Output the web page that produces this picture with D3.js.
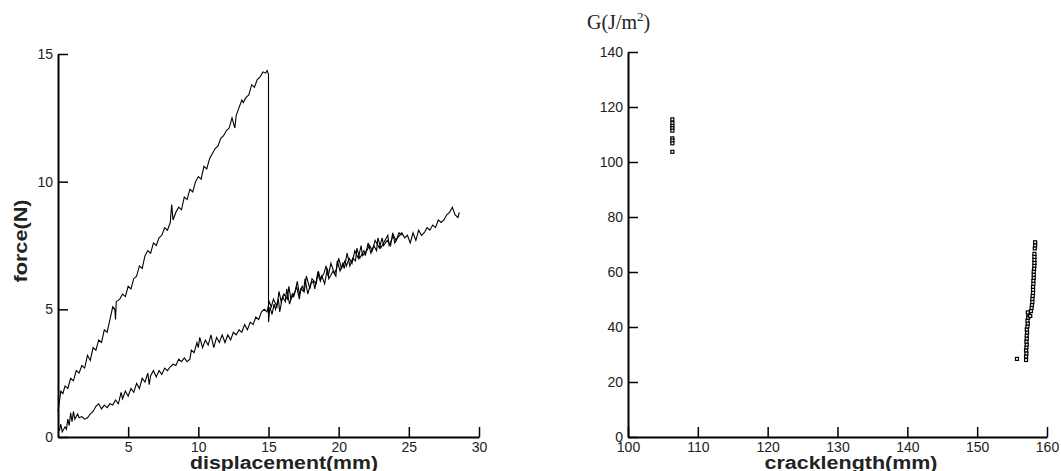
<!DOCTYPE html>
<meta charset='utf-8'>
<title>force-displacement and G-cracklength</title>
<style>
html, body {
  margin: 0;
  padding: 0;
  background: #fff;
}
svg text { font-family: 'Liberation Sans', Arial, sans-serif; fill: #222; }
</style>
<script src='https://d3js.org/d3.v7.min.js'></script>
<body>
<svg id='chart' width='1061' height='471'></svg>
<script>
// Loading curve up to the crack jump at 15 mm, [displacement, force]
var loadCurve = [
  [0, 1.0], [0.1, 1.4], [0.2, 1.8], [0.35, 1.7], [0.5, 2.0], [0.7, 1.9], [0.9, 2.3], [1.1, 2.2],
  [1.3, 2.6], [1.5, 2.5], [1.7, 2.8], [1.9, 2.7], [2.1, 3.2], [2.3, 3.0], [2.5, 3.5], [2.7, 3.4],
  [2.9, 3.8], [3.1, 3.7], [3.3, 4.2], [3.5, 4.1], [3.7, 4.6], [3.9, 5.1], [4.05, 5.0], [4.1, 4.6],
  [4.15, 5.3], [4.4, 5.4], [4.6, 5.6], [4.8, 5.5], [5.0, 5.9], [5.2, 5.8], [5.4, 6.2], [5.6, 6.3],
  [5.8, 6.7], [6.0, 6.6], [6.2, 7.1], [6.4, 7.3], [6.6, 7.2], [6.8, 7.6], [7.0, 7.5], [7.2, 7.8],
  [7.4, 7.9], [7.6, 8.2], [7.8, 8.1], [8.0, 8.4], [8.1, 9.1], [8.2, 8.5], [8.4, 8.8], [8.6, 9.0],
  [8.8, 8.9], [9.0, 9.4], [9.2, 9.3], [9.4, 9.7], [9.6, 9.6], [9.8, 10.0], [10.0, 10.2], [10.2, 10.1],
  [10.4, 10.6], [10.6, 10.5], [10.8, 10.9], [11.0, 11.1], [11.2, 11.3], [11.4, 11.4], [11.6, 11.7],
  [11.8, 11.8], [12.0, 12.0], [12.2, 12.1], [12.4, 12.5], [12.6, 12.1], [12.7, 12.6], [12.9, 12.9],
  [13.1, 13.2], [13.2, 13.1], [13.4, 13.3], [13.6, 13.4], [13.8, 13.8], [14.0, 13.7], [14.2, 14.0],
  [14.4, 14.1], [14.6, 14.3], [14.8, 14.25], [14.9, 14.35], [15.0, 14.2], [15.0, 4.5]
];

// After the drop
var dropCurve = [
  [15.0, 4.5], [15.1, 5.1], [15.25, 4.8], [15.4, 5.2], [15.5, 5.0], [15.7, 5.4], [15.8, 4.9],
  [16.0, 5.5], [16.2, 5.3], [16.3, 5.8], [16.5, 5.2], [16.7, 5.6], [16.8, 5.5], [17.0, 5.9],
  [17.2, 5.4], [17.3, 5.8], [17.5, 5.7], [17.6, 6.2], [17.8, 5.6], [18.0, 6.0], [18.2, 6.1],
  [18.3, 5.8], [18.5, 6.4], [18.7, 6.1], [18.8, 6.3], [19.0, 6.0], [19.2, 6.6], [19.3, 6.2],
  [19.6, 6.5], [19.8, 6.3], [19.9, 6.9], [20.1, 6.5], [20.3, 6.8], [20.4, 6.6], [20.6, 7.2],
  [20.8, 6.7], [21.0, 7.0], [21.2, 6.9], [21.3, 7.4], [21.5, 7.0], [21.8, 7.3], [21.9, 7.1],
  [22.1, 7.6], [22.3, 7.2], [22.5, 7.5], [22.7, 7.3], [22.8, 7.8], [23.0, 7.4], [23.3, 7.7],
  [23.5, 7.9], [23.6, 7.5], [23.9, 7.9], [24.1, 7.7], [24.3, 8.0], [24.5, 7.9]
];

// Reloading curve
var reloadCurve = [
  [0.1, 0.25], [0.2, 0.5], [0.3, 0.2], [0.5, 0.4], [0.6, 0.3], [0.7, 0.7], [0.8, 0.45], [0.9, 0.95],
  [1.0, 0.6], [1.1, 1.0], [1.2, 0.7], [1.4, 0.9], [1.5, 0.75], [1.7, 0.8], [1.9, 0.7], [2.1, 0.75],
  [2.3, 0.9], [2.5, 1.0], [2.7, 1.2], [2.9, 1.3], [3.1, 1.1], [3.3, 1.25], [3.5, 1.15], [3.7, 1.3],
  [3.9, 1.25], [4.1, 1.45], [4.3, 1.3], [4.5, 1.75], [4.6, 1.5], [4.8, 1.8], [5.0, 1.6], [5.2, 1.9],
  [5.4, 1.75], [5.6, 2.1], [5.8, 1.9], [6.0, 2.3], [6.2, 2.15], [6.4, 2.5], [6.5, 2.05], [6.6, 2.4],
  [6.8, 2.6], [7.0, 2.35], [7.2, 2.6], [7.4, 2.45], [7.6, 2.7], [7.8, 2.6], [8.0, 2.75], [8.2, 2.85],
  [8.4, 2.8], [8.6, 3.05], [8.8, 2.95], [9.0, 3.1], [9.2, 2.95], [9.4, 3.05], [9.5, 3.4], [9.7, 3.3],
  [9.9, 3.7], [10.0, 3.5], [10.1, 3.9], [10.3, 3.5], [10.5, 3.8], [10.7, 3.6], [10.9, 4.0], [11.1, 3.5],
  [11.3, 3.9], [11.5, 3.7], [11.7, 4.0], [11.9, 3.7], [12.1, 4.0], [12.3, 3.8], [12.5, 4.1], [12.7, 4.0],
  [12.9, 4.2], [13.1, 4.1], [13.3, 4.4], [13.5, 4.2], [13.7, 4.5], [13.9, 4.4], [14.1, 4.7], [14.3, 4.6],
  [14.5, 4.9], [14.7, 5.0], [14.9, 4.9], [15.05, 5.3], [15.2, 5.1], [15.35, 5.4], [15.6, 5.1], [15.75, 5.7],
  [15.9, 5.3], [16.1, 5.6], [16.35, 5.4], [16.45, 5.9], [16.6, 5.4], [16.9, 5.7], [17.05, 6.1], [17.2, 5.6],
  [17.4, 5.9], [17.55, 5.7], [17.7, 6.3], [17.95, 5.8], [18.1, 6.2], [18.4, 6.0], [18.55, 6.5], [18.7, 6.2],
  [18.95, 6.4], [19.1, 6.7], [19.25, 6.3], [19.45, 6.8], [19.7, 6.4], [19.85, 6.6], [20.0, 7.0], [20.2, 6.6],
  [20.45, 6.9], [20.55, 6.7], [20.75, 7.0], [20.95, 6.8], [21.15, 7.3], [21.4, 7.0], [21.6, 7.5], [21.7, 7.1],
  [22.0, 7.3], [22.2, 7.5], [22.4, 7.3], [22.6, 7.7], [22.9, 7.4], [23.1, 7.8], [23.2, 7.5], [23.45, 7.7],
  [23.7, 7.5], [23.85, 8.0], [24.0, 7.6], [24.2, 7.8], [24.5, 8.0], [24.7, 7.8], [24.9, 7.9],
  [25.1, 7.6], [25.3, 8.0], [25.5, 7.7], [25.7, 8.1], [25.9, 7.9], [26.1, 8.0], [26.3, 8.2],
  [26.5, 8.1], [26.7, 8.3], [26.9, 8.2], [27.1, 8.5], [27.3, 8.4], [27.5, 8.5], [27.7, 8.7],
  [27.9, 8.8], [28.1, 9.0], [28.3, 8.7], [28.5, 8.6], [28.6, 8.8]
];

// G vs crack length, [cracklength, G]
var gEarly = [
  [106.35, 115.5], [106.35, 114.1], [106.35, 113.1], [106.35, 112.3], [106.35, 111.4],
  [106.35, 108.6], [106.35, 107.8], [106.35, 106.8], [106.35, 103.7]
];
var gLate = [
  [155.7, 28.4],
  [157.0, 28.0], [157.0, 29.3], [157.05, 30.4], [157.0, 31.5], [157.05, 32.6], [157.1, 33.6],
  [157.05, 34.7], [157.1, 35.8], [157.1, 36.9], [157.15, 38.0], [157.1, 39.1], [157.2, 40.2],
  [157.25, 41.3], [157.2, 42.3], [157.3, 43.4], [157.35, 44.5], [157.25, 45.3], [157.6, 44.0],
  [157.7, 45.8], [157.8, 46.9], [157.85, 48.0], [157.9, 49.1], [157.9, 50.2], [157.95, 51.3],
  [158.0, 52.4], [158.0, 53.5], [158.0, 54.6], [158.05, 55.7], [158.05, 56.8], [158.1, 57.9],
  [158.1, 59.0], [158.1, 60.1], [158.15, 61.2], [158.2, 62.3], [158.2, 63.3], [158.2, 64.4],
  [158.2, 65.5], [158.2, 66.6], [158.25, 68.6], [158.3, 69.7], [158.3, 70.8]
];

// tick values
var dispTicks = [5, 10, 15, 20, 25, 30];
var dispMinor = d3.range(1, 30, 1);
var forceTicks = [0, 5, 10, 15];
var forceMinor = d3.range(1, 15, 1);
var crackTicks = [100, 110, 120, 130, 140, 150, 160];
var crackMinor = d3.range(102, 160, 2);
var gTicks = [0, 20, 40, 60, 80, 100, 120, 140];
var gMinor = d3.range(5, 140, 5);

var svg = d3.select('#chart');

function drawAxes(g, x, y, xt, xm, yt, ym) {
  var h = y.range()[0];
  var xAx = g.append('g').attr('transform', 'translate(0,' + h + ')');
  xAx.call(d3.axisBottom(x).tickValues(xm).tickSize(-5).tickFormat(''));
  xAx.call(d3.axisBottom(x).tickValues(xt).tickSize(-10).tickSizeOuter(0).tickPadding(5));
  var yAx = g.append('g').attr('transform', 'translate(' + x.range()[0] + ',0)');
  yAx.call(d3.axisLeft(y).tickValues(ym).tickSize(-5).tickFormat(''));
  yAx.call(d3.axisLeft(y).tickValues(yt).tickSize(-10).tickSizeOuter(0).tickPadding(5));
  g.selectAll('.domain').attr('stroke', '#000').attr('stroke-width', 2);
  g.selectAll('.tick line').attr('stroke', '#000').attr('stroke-width', 1.5);
  g.selectAll('.tick text').attr('font-size', 14).attr('fill', '#222')
    .attr('font-family', "'Liberation Sans', Arial, sans-serif");
}

// Left panel
var xL = d3.scaleLinear().domain([0, 30]).range([58, 479]);
var yL = d3.scaleLinear().domain([0, 15]).range([437, 54]);
var left = svg.append('g');

var line = d3.line().x(function (d) { return xL(d[0]); }).y(function (d) { return yL(d[1]); });
[loadCurve, dropCurve, reloadCurve].forEach(function (c) {
  left.append('path').datum(c)
    .attr('d', line)
    .attr('fill', 'none')
    .attr('stroke', '#000')
    .attr('stroke-width', 1.1);
});
drawAxes(left, xL, yL, dispTicks, dispMinor, forceTicks, forceMinor);

left.append('text')
  .attr('x', 284).attr('y', 469)
  .attr('text-anchor', 'middle')
  .attr('font-weight', 'bold').attr('font-size', 18)
  .attr('textLength', 188).attr('lengthAdjust', 'spacingAndGlyphs')
  .text('displacement(mm)');
left.append('text')
  .attr('transform', 'translate(27,241)rotate(-90)')
  .attr('text-anchor', 'middle')
  .attr('font-weight', 'bold').attr('font-size', 18)
  .attr('textLength', 83).attr('lengthAdjust', 'spacingAndGlyphs')
  .text('force(N)');

// Right panel
var xR = d3.scaleLinear().domain([100, 160]).range([628, 1047]);
var yR = d3.scaleLinear().domain([0, 140]).range([437, 52]);
var right = svg.append('g');

right.selectAll('rect.pt')
  .data(gEarly.concat(gLate))
  .enter().append('rect')
  .attr('class', 'pt')
  .attr('x', function (d) { return xR(d[0]) - 1.5; })
  .attr('y', function (d) { return yR(d[1]) - 1.5; })
  .attr('width', 3).attr('height', 3)
  .attr('fill', '#fff')
  .attr('stroke', '#000')
  .attr('stroke-width', 1.2);
drawAxes(right, xR, yR, crackTicks, crackMinor, gTicks, gMinor);

right.append('text')
  .attr('x', 851).attr('y', 469)
  .attr('text-anchor', 'middle')
  .attr('font-weight', 'bold').attr('font-size', 18)
  .attr('textLength', 173).attr('lengthAdjust', 'spacingAndGlyphs')
  .text('cracklength(mm)');

var gl = right.append('text')
  .attr('x', 587).attr('y', 29)
  .attr('font-size', 20)
  .style('font-family', "'Liberation Serif', 'Times New Roman', serif");
gl.append('tspan').text('G(J/m');
gl.append('tspan').attr('font-size', 13).attr('dy', -8).text('2');
gl.append('tspan').attr('dy', 8).text(')');
</script>
</body>
